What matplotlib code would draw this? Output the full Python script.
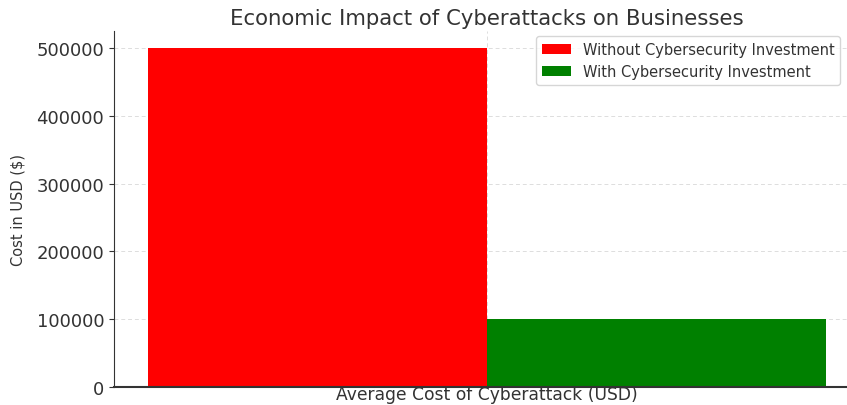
import matplotlib
matplotlib.use("Agg")
import matplotlib.pyplot as plt
import numpy as np

category = "Average Cost of Cyberattack (USD)"
series_names = ["Without Cybersecurity Investment", "With Cybersecurity Investment"]
series_values = [500000, 100000]
series_colors = ["red", "green"]

plt.rcParams["text.color"] = "#333333"
plt.rcParams["axes.labelcolor"] = "#333333"
plt.rcParams["xtick.color"] = "#333333"
plt.rcParams["ytick.color"] = "#333333"

fig = plt.figure(figsize=(8.47, 4.06), dpi=100)
# axes run past the right edge, like the cropped original
ax = fig.add_axes([114 / 847, 18 / 406, 746 / 847, 356 / 406])

x = np.arange(1)
width = 0.35
ax.bar(x - width / 2, [series_values[0]], width, color=series_colors[0], label=series_names[0])
ax.bar(x + width / 2, [series_values[1]], width, color=series_colors[1], label=series_names[1])

ax.set_xticks(x)
ax.set_xticklabels([""])
ax.tick_params(axis="x", length=0)
ax.set_xlabel(category, fontsize=12.3, labelpad=-5)
ax.set_ylabel("Cost in USD ($)", fontsize=10.5, labelpad=8)
ax.set_title("Economic Impact of Cyberattacks on Businesses", fontsize=15.3, pad=5)
ax.tick_params(axis="y", labelsize=13)

ax.grid(True, linestyle=(0, (4, 3)), color="#dddddd", linewidth=0.7)
ax.set_axisbelow(True)
ax.spines["top"].set_visible(False)
ax.spines["right"].set_visible(False)
ax.spines["left"].set_color("#333333")
ax.spines["bottom"].set_color("#333333")
ax.spines["bottom"].set_linewidth(1.5)

ax.legend(loc="upper left", bbox_to_anchor=(0.5657, 0.985), fontsize=10.5, borderaxespad=0)

fig.savefig("out.png", dpi=100)
